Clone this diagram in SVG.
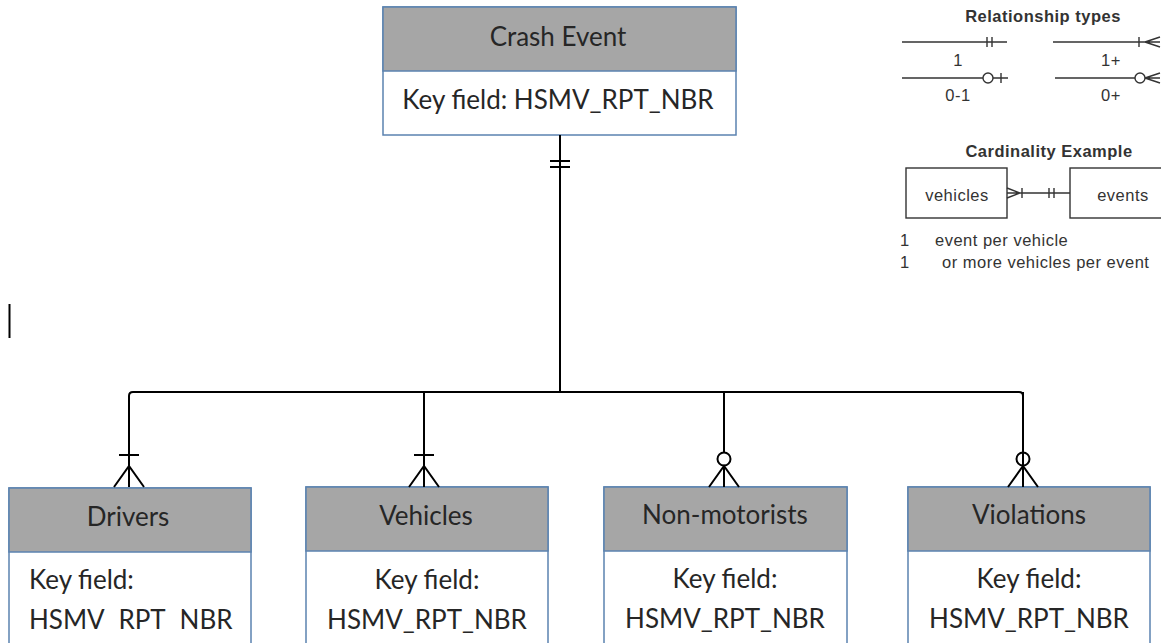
<svg xmlns="http://www.w3.org/2000/svg" width="1161" height="643" viewBox="0 0 1161 643">
<style>
.hdr{fill:#a6a6a6;stroke:#5b82b0;stroke-width:1.5}
.bdy{fill:#ffffff;stroke:#5b82b0;stroke-width:1.5}
.t{font-family:Lato,"Liberation Sans",sans-serif;font-size:26px;fill:#262626}
.tc{text-anchor:middle}
.ln{stroke:#000;stroke-width:2;fill:none}
.lg{stroke:#333;stroke-width:1.4;fill:none}
.lt{font-family:"Liberation Sans",Arial,sans-serif;font-size:16.5px;letter-spacing:0.5px;fill:#333}
.lb{font-weight:bold}
</style>
<rect width="1161" height="643" fill="#fff"/>
<g id="crash-event">
<rect class="bdy" x="383" y="7" width="353" height="128"/>
<rect class="hdr" x="383" y="7" width="353" height="64"/>
<text class="t tc" x="558" y="46">Crash Event</text>
<text class="t tc" x="558" y="109">Key field: HSMV_RPT_NBR</text>
</g>
<g id="drivers">
<rect class="bdy" x="9" y="488" width="242" height="170"/>
<rect class="hdr" x="9" y="488" width="242" height="64"/>
<text class="t tc" x="128" y="526">Drivers</text>
<text class="t" x="29" y="589">Key field:</text>
<text class="t" x="29" y="629" word-spacing="8">HSMV RPT NBR</text>
</g>
<g id="vehicles">
<rect class="bdy" x="306" y="487" width="242" height="170"/>
<rect class="hdr" x="306" y="487" width="242" height="64"/>
<text class="t tc" x="426" y="525">Vehicles</text>
<text class="t tc" x="427" y="589">Key field:</text>
<text class="t tc" x="427" y="629">HSMV_RPT_NBR</text>
</g>
<g id="non-motorists">
<rect class="bdy" x="604" y="487" width="243" height="170"/>
<rect class="hdr" x="604" y="487" width="243" height="64"/>
<text class="t tc" x="725" y="524">Non-motorists</text>
<text class="t tc" x="725" y="588">Key field:</text>
<text class="t tc" x="725" y="628">HSMV_RPT_NBR</text>
</g>
<g id="violations">
<rect class="bdy" x="908" y="487" width="242" height="170"/>
<rect class="hdr" x="908" y="487" width="242" height="64"/>
<text class="t tc" x="1029" y="524">Violations</text>
<text class="t tc" x="1029" y="588">Key field:</text>
<text class="t tc" x="1029" y="628">HSMV_RPT_NBR</text>
</g>
<g id="connectors">
<path class="ln" d="M560,135 V392"/>
<path class="ln" d="M550,161 H570 M550,167 H570"/>
<path class="ln" d="M129,487 V396 Q129,392 133,392 H1019 Q1023,392 1023,396 V487"/>
<path class="ln" d="M424,392 V487 M724,392 V452"/>
<path class="ln" d="M119,455 H139 M114,487 L129,466 L144,487"/>
<path class="ln" d="M414,455 H434 M409,487 L424,466 L439,487"/>
<circle class="ln" cx="724" cy="459" r="6.5" fill="#fff"/>
<path class="ln" d="M724,466 V487 M709,487 L724,466 L739,487"/>
<path class="ln" d="M1023,392 V452"/>
<circle class="ln" cx="1023" cy="459" r="6.5" fill="#fff"/>
<path class="ln" d="M1023,466 V487 M1008,487 L1023,466 L1038,487"/>
</g>
<g id="cursor">
<line x1="9.5" y1="304" x2="9.5" y2="338" stroke="#000" stroke-width="2"/>
</g>
<g id="legend">
<text class="lt lb tc" x="1043" y="22">Relationship types</text>
<path class="lg" d="M902,42 H1007 M987,37 V47 M992,37 V47"/>
<text class="lt tc" x="958" y="66">1</text>
<path class="lg" d="M1053,42 H1160 M1139,37 V47 M1145,42 L1160,37 M1145,42 L1160,47"/>
<text class="lt tc" x="1111" y="66">1+</text>
<path class="lg" d="M902,78 H983 M1001,73 V83 M993,78 H1008"/>
<circle class="lg" cx="988" cy="78" r="5"/>
<text class="lt tc" x="958" y="101">0-1</text>
<path class="lg" d="M1055,78 H1135 M1145,78 L1160,73 M1145,78 L1160,83 M1145,78 H1160"/>
<circle class="lg" cx="1140" cy="78" r="5"/>
<text class="lt tc" x="1111" y="101">0+</text>
<text class="lt lb tc" x="1049" y="157">Cardinality Example</text>
<rect class="lg" x="906" y="168" width="101" height="50"/>
<text class="lt tc" x="957" y="201">vehicles</text>
<rect class="lg" x="1070" y="168" width="100" height="50"/>
<text class="lt tc" x="1123" y="201">events</text>
<path class="lg" d="M1007,193 H1070 M1007,188 L1020,193 L1007,198 M1022,188 V198 M1049,188 V198 M1054,188 V198"/>
<text class="lt" x="900" y="246">1</text>
<text class="lt" x="935" y="246">event per vehicle</text>
<text class="lt" x="900" y="268">1</text>
<text class="lt" x="942" y="268">or more vehicles per event</text>
</g>
</svg>
